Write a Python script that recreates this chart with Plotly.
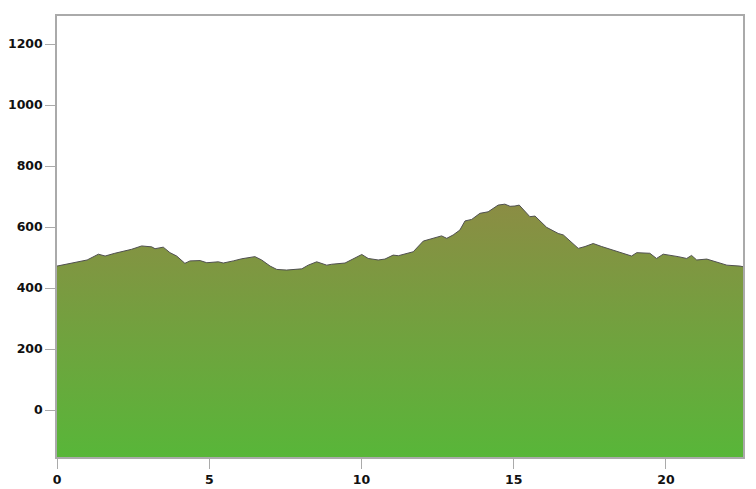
import plotly.graph_objects as go

distance_km = [0.00, 0.59, 0.99, 1.36, 1.58, 1.90, 2.45, 2.78, 3.11, 3.22, 3.49, 3.71, 3.93,
               4.20, 4.37, 4.70, 4.92, 5.30, 5.46, 5.79, 6.07, 6.50, 6.72, 7.00, 7.22, 7.54,
               8.04, 8.25, 8.53, 8.86, 9.02, 9.46, 9.73, 10.01, 10.22, 10.55, 10.77, 11.04,
               11.21, 11.43, 11.70, 12.03, 12.36, 12.63, 12.80, 13.01, 13.23, 13.40, 13.62,
               13.89, 14.16, 14.49, 14.71, 14.88, 15.04, 15.18, 15.53, 15.70, 16.08, 16.46,
               16.63, 17.12, 17.34, 17.61, 17.89, 18.22, 18.76, 18.87, 19.04, 19.47, 19.69,
               19.91, 20.40, 20.68, 20.84, 21.01, 21.34, 21.78, 22.00, 22.43, 22.53]
elevation_m = [472, 483, 492, 511, 505, 514, 527, 538, 535, 529, 534, 516, 505,
               481, 489, 490, 483, 486, 482, 489, 496, 503, 492, 472, 461, 459,
               463, 475, 486, 475, 478, 482, 495, 510, 497, 492, 495, 508,
               506, 511, 519, 554, 563, 571, 563, 574, 590, 620, 625,
               645, 650, 672, 675, 668, 669, 672, 634, 636, 599, 579,
               574, 530, 536, 546, 536, 526, 510, 505, 516, 514, 497,
               511, 503, 497, 507, 492, 495, 481, 475, 472, 470]

x_ticks = [0, 5, 10, 15, 20]
y_ticks = [0, 200, 400, 600, 800, 1000, 1200]
X_RANGE = [0, 22.53]
Y_RANGE = [-154, 1292]

base = [Y_RANGE[0]] * len(distance_km)

fig = go.Figure()
fig.add_trace(go.Scatter(x=distance_km, y=base, mode="lines",
                         line=dict(width=0), hoverinfo="skip", showlegend=False))
fig.add_trace(go.Scatter(
    x=distance_km, y=elevation_m, mode="lines", fill="tonexty",
    line=dict(color="#505050", width=1),
    fillgradient=dict(type="vertical",
                      colorscale=[[0, "#58b639"], [1, "#8c8c44"]],
                      start=Y_RANGE[0], stop=690),
    showlegend=False))

axis_common = dict(showline=True, linecolor="#aaaaaa", linewidth=1.5, mirror=True,
                   showgrid=False, zeroline=False, ticks="outside", ticklen=10,
                   tickcolor="#aaaaaa", tickwidth=1, automargin=False,
                   tickfont=dict(family="DejaVu Sans", size=12.5, color="#111111"))

fig.update_xaxes(range=X_RANGE, tickvals=x_ticks,
                 ticktext=["<b>%d</b>" % t for t in x_ticks], **axis_common)
fig.update_yaxes(range=Y_RANGE, tickvals=y_ticks,
                 ticktext=["<b>%d</b>" % t for t in y_ticks], **axis_common)

fig.update_layout(width=748, height=481, margin=dict(l=49, r=13, t=8, b=32),
                  plot_bgcolor="white", paper_bgcolor="white")

fig.write_html("out.html")
